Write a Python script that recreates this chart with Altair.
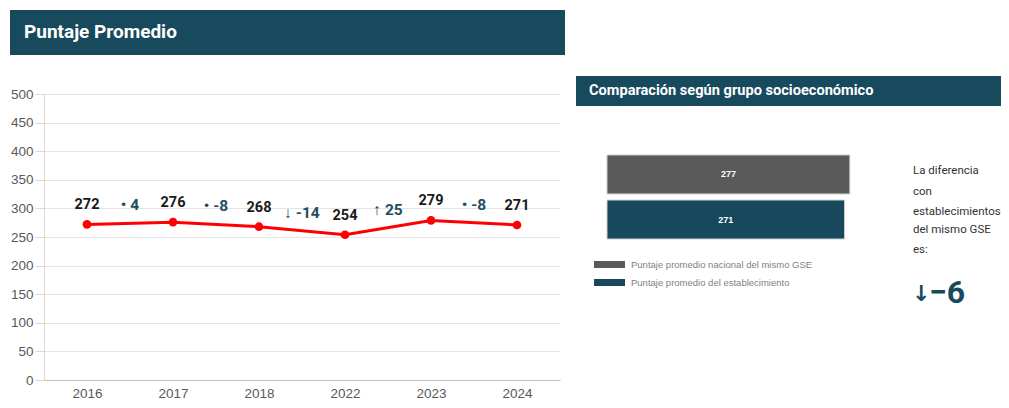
import altair as alt
import pandas as pd

# ---- data ----
years = ["2016", "2017", "2018", "2022", "2023", "2024"]
scores = [272, 276, 268, 254, 279, 271]
diff_labels = ["• 4", "• -8", "↓ -14", "↑ 25", "• -8"]

gse_groups = ["Puntaje promedio nacional del mismo GSE", "Puntaje promedio del establecimiento"]
gse_values = [277, 271]
gse_colors = ["#5a5a5a", "#17485c"]

diff_text = "−6"
note_lines = ["La diferencia", "con", "establecimientos", "del mismo GSE", "es:"]

TEAL = "#184a5e"
COND = "Roboto, sans-serif"
SANS = "Liberation Sans, Arial, sans-serif"

# ---- tables ----
line_df = pd.DataFrame({"year": years, "score": scores})
diff_df = pd.DataFrame({
    "year": years[:-1],
    "label": diff_labels,
    "mid": [(scores[i] + scores[i + 1]) / 2 for i in range(len(scores) - 1)],
})
bar_df = pd.DataFrame({"group": gse_groups, "value": gse_values, "color": gse_colors})
one = pd.DataFrame({"k": [0]})

x_scale = alt.Scale(type="point", padding=0.5, domain=years)
x_axis = alt.Axis(title=None, labelAngle=0, labelFontSize=13.5, labelColor="#595959",
                  labelFont=SANS, ticks=False, domainColor="#bfbfbf",
                  labelPadding=6, grid=False)
y_scale = alt.Scale(domain=[0, 500], nice=False)
y_axis = alt.Axis(title=None, values=list(range(0, 501, 50)), labelFontSize=13.5,
                  labelColor="#595959", labelFont=SANS, tickSize=9, labelOverlap=False,
                  tickColor="#d9d9d9", gridColor="#e4e4e4", domainColor="#d9d9d9",
                  labelPadding=2)


def xe(f="year"):
    return alt.X(f"{f}:O", sort=years, scale=x_scale, axis=x_axis)


def ye(f):
    return alt.Y(f"{f}:Q", scale=y_scale, axis=y_axis)


base = alt.Chart(line_df)
line = base.mark_line(color="#ff0000", strokeWidth=3).encode(x=xe(), y=ye("score"))
pts = base.mark_circle(color="#ff0000", size=75, opacity=1).encode(x=xe(), y=ye("score"))
vals = base.mark_text(font=COND, fontSize=14.5, fontWeight="bold", color="#1a1a1a",
                      dy=-19, baseline="middle").encode(
    x=xe(), y=ye("score"), text="score:Q")
diffs = alt.Chart(diff_df).mark_text(font=COND, fontSize=15.5, fontWeight="bold",
                                     color="#1f4e5f", dx=43, dy=-18,
                                     baseline="middle").encode(
    x=xe(), y=ye("mid"), text="label:N")

# title bar left
title_bar = alt.Chart(one).mark_rect(color=TEAL).encode(
    x=alt.value(-34), x2=alt.value(521), y=alt.value(-84), y2=alt.value(-39))
title_txt = alt.Chart(one).mark_text(text="Puntaje Promedio", font=COND, fontSize=19,
                                     fontWeight="bold", color="white", align="left",
                                     baseline="middle").encode(
    x=alt.value(-20), y=alt.value(-62))

left = alt.layer(title_bar, title_txt, line, pts, vals, diffs)

# right panel
hdr_bar = alt.Chart(one).mark_rect(color=TEAL).encode(
    x=alt.value(532), x2=alt.value(965), y=alt.value(-18), y2=alt.value(12))
hdr_txt = alt.Chart(one).mark_text(text="Comparación según grupo socioeconómico",
                                   font=COND, fontSize=14.6, fontWeight="bold",
                                   color="white", align="left", baseline="middle").encode(
    x=alt.value(545), y=alt.value(-3))

bx = alt.X("value:Q", scale=alt.Scale(domain=[0, 300], range=[563, 826], nice=False), axis=None)
by = alt.Y("group:N", sort=gse_groups,
           scale=alt.Scale(domain=gse_groups, range=[61, 145], paddingInner=0.135,
                           paddingOuter=0), axis=None)
bars = alt.Chart(bar_df).mark_bar(stroke="#cfcfcf", strokeWidth=1).encode(
    x=bx, y=by,
    color=alt.Color("color:N", scale=None))
bar_txt = alt.Chart(bar_df).transform_calculate(half="datum.value / 2").mark_text(
    font=SANS, fontSize=9, fontWeight="bold", color="white", baseline="middle").encode(
    x=alt.X("half:Q"), y=alt.Y("group:N", sort=gse_groups), text="value:Q")

legend_rows = []
for i, (g, c) in enumerate(zip(gse_groups, gse_colors)):
    yy = 170.5 + 18 * i
    legend_rows.append(alt.Chart(one).mark_rect(color=c).encode(
        x=alt.value(550), x2=alt.value(581), y=alt.value(yy - 3.5), y2=alt.value(yy + 3.5)))
    legend_rows.append(alt.Chart(one).mark_text(text=g, font=SANS, fontSize=9.5,
                                                color="#7f7f7f", align="left",
                                                baseline="middle").encode(
        x=alt.value(587), y=alt.value(yy)))

note_y = [77, 98, 118, 136, 156]
notes = [alt.Chart(one).mark_text(text=t, font=COND, fontSize=11.5, color="#333333",
                                  align="left", baseline="middle").encode(
    x=alt.value(869), y=alt.value(yy)) for t, yy in zip(note_lines, note_y)]
arrow = alt.Chart(one).mark_text(text="↓", font="DejaVu Sans", fontSize=22, fontWeight="bold",
                                 color=TEAL, align="left", baseline="middle").encode(
    x=alt.value(868), y=alt.value(200))
big = alt.Chart(one).mark_text(text=diff_text, font=COND, fontSize=32, fontWeight="bold",
                               color=TEAL, align="left", baseline="middle").encode(
    x=alt.value(885), y=alt.value(199))

right = alt.layer(hdr_bar, hdr_txt, bars, bar_txt, *legend_rows, *notes, arrow, big)

chart = alt.layer(left, right).resolve_scale(x="independent", y="independent").properties(
    width=516, height=286,
    autosize=alt.AutoSizeParams(type="none"),
    padding={"left": 36, "top": 86, "right": 441, "bottom": 20},
    background="white",
).configure_view(stroke=None)

chart.save("out.html", embed_options={"renderer": "svg", "actions": False})
